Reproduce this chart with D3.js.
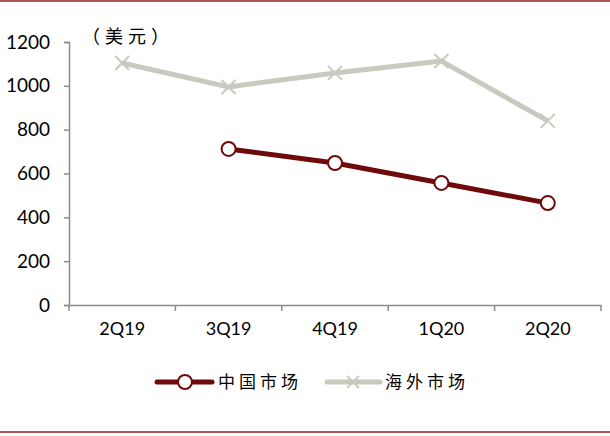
<!DOCTYPE html>
<html>
<head>
<meta charset="utf-8">
<script src="https://cdn.jsdelivr.net/npm/d3@7"></script>
<style>
  body { margin: 0; background: #fff; }
  svg { display: block; }
</style>
</head>
<body>
<svg id="chart" width="610" height="436"></svg>
<script>
// quarters on the x axis
var quarters = ["2Q19", "3Q19", "4Q19", "1Q20", "2Q20"];
// China market (no value for 2Q19)
var chinaValues = [null, 712, 648, 557, 465];
// overseas market
var overseasValues = [1104, 995, 1059, 1113, 840];
var yTicks = [0, 200, 400, 600, 800, 1000, 1200];

var svg = d3.select("#chart");
var plotLeft = 69, plotRight = 601, plotTop = 42, plotBottom = 305;

// frame lines top and bottom
svg.append("line").attr("x1", 0).attr("x2", 610).attr("y1", 1).attr("y2", 1)
    .attr("stroke", "#8B1E1E").attr("stroke-width", 1.5);
svg.append("line").attr("x1", 0).attr("x2", 610).attr("y1", 432).attr("y2", 432)
    .attr("stroke", "#8B1E1E").attr("stroke-width", 1.5);

var x = d3.scaleBand().domain(quarters).range([plotLeft, plotRight]);
var y = d3.scaleLinear().domain([0, 1200]).range([plotBottom, plotTop]);

// y axis
var yAxis = svg.append("g").attr("transform", "translate(" + plotLeft + ",0)")
    .call(d3.axisLeft(y).tickValues(yTicks).tickFormat(d3.format("d")).tickSize(5).tickPadding(14));
yAxis.selectAll("text").attr("font-family", "Lato, 'Open Sans', sans-serif")
    .attr("font-size", 19).attr("fill", "#000");

// x axis (ticks at category boundaries)
var xAxis = svg.append("g").attr("transform", "translate(0," + plotBottom + ")");
xAxis.call(d3.axisBottom(x).tickSize(0).tickPadding(17));
xAxis.selectAll("text").attr("font-family", "Lato, 'Open Sans', sans-serif")
    .attr("font-size", 18).attr("fill", "#000");
var bounds = quarters.map(function(q) { return x(q); }).concat([plotRight]);
xAxis.selectAll(".bound").data(bounds).enter().append("line")
    .attr("class", "bound")
    .attr("x1", function(d) { return d; }).attr("x2", function(d) { return d; })
    .attr("y1", 0).attr("y2", 6);

svg.selectAll(".domain, .tick line, .bound").attr("stroke", "#8c8c8c").attr("stroke-width", 1.5);

// unit label
svg.append("text").attr("x", 82).attr("y", 43)
    .attr("font-family", "'Noto Sans CJK SC'").attr("font-size", 18)
    .attr("letter-spacing", 5).text("（美元）");

var cx = function(d, i) { return x(quarters[i]) + x.bandwidth() / 2; };

var line = d3.line()
    .defined(function(d) { return d != null; })
    .x(cx)
    .y(function(d) { return y(d); });

// overseas line
svg.append("path").datum(overseasValues).attr("d", line)
    .attr("fill", "none").attr("stroke", "#C9C9BF").attr("stroke-width", 5);
var crossSize = 7;
svg.selectAll(".xmark").data(overseasValues).enter().append("path")
    .attr("d", function(d, i) {
        var px = cx(d, i), py = y(d);
        return "M" + (px - crossSize) + "," + (py - crossSize) + "L" + (px + crossSize) + "," + (py + crossSize) +
            "M" + (px - crossSize) + "," + (py + crossSize) + "L" + (px + crossSize) + "," + (py - crossSize);
    })
    .attr("stroke", "#C9C9BF").attr("stroke-width", 2);

// China line
svg.append("path").datum(chinaValues).attr("d", line)
    .attr("fill", "none").attr("stroke", "#6E0A0A").attr("stroke-width", 5);
svg.selectAll(".cmark").data(chinaValues).enter()
    .filter(function(d) { return d != null; })
    .append("circle")
    .attr("cx", function(d) { return cx(d, chinaValues.indexOf(d)); })
    .attr("cy", function(d) { return y(d); })
    .attr("r", 7).attr("fill", "#fff").attr("stroke", "#6E0A0A").attr("stroke-width", 2);

// legend
var ly = 382;
svg.append("line").attr("x1", 157).attr("x2", 212).attr("y1", ly).attr("y2", ly)
    .attr("stroke", "#6E0A0A").attr("stroke-width", 5).attr("stroke-linecap", "round");
svg.append("circle").attr("cx", 185).attr("cy", ly).attr("r", 7)
    .attr("fill", "#fff").attr("stroke", "#6E0A0A").attr("stroke-width", 2);
svg.append("text").attr("x", 218).attr("y", ly + 6)
    .attr("font-family", "'Noto Sans CJK SC'").attr("font-size", 17)
    .attr("letter-spacing", 4).text("中国市场");

svg.append("line").attr("x1", 327).attr("x2", 380).attr("y1", ly).attr("y2", ly)
    .attr("stroke", "#C9C9BF").attr("stroke-width", 5).attr("stroke-linecap", "round");
svg.append("path")
    .attr("d", "M347," + (ly - 6) + "L359," + (ly + 6) + "M347," + (ly + 6) + "L359," + (ly - 6))
    .attr("stroke", "#C9C9BF").attr("stroke-width", 2);
svg.append("text").attr("x", 385).attr("y", ly + 6)
    .attr("font-family", "'Noto Sans CJK SC'").attr("font-size", 17)
    .attr("letter-spacing", 4).text("海外市场");
</script>
</body>
</html>
